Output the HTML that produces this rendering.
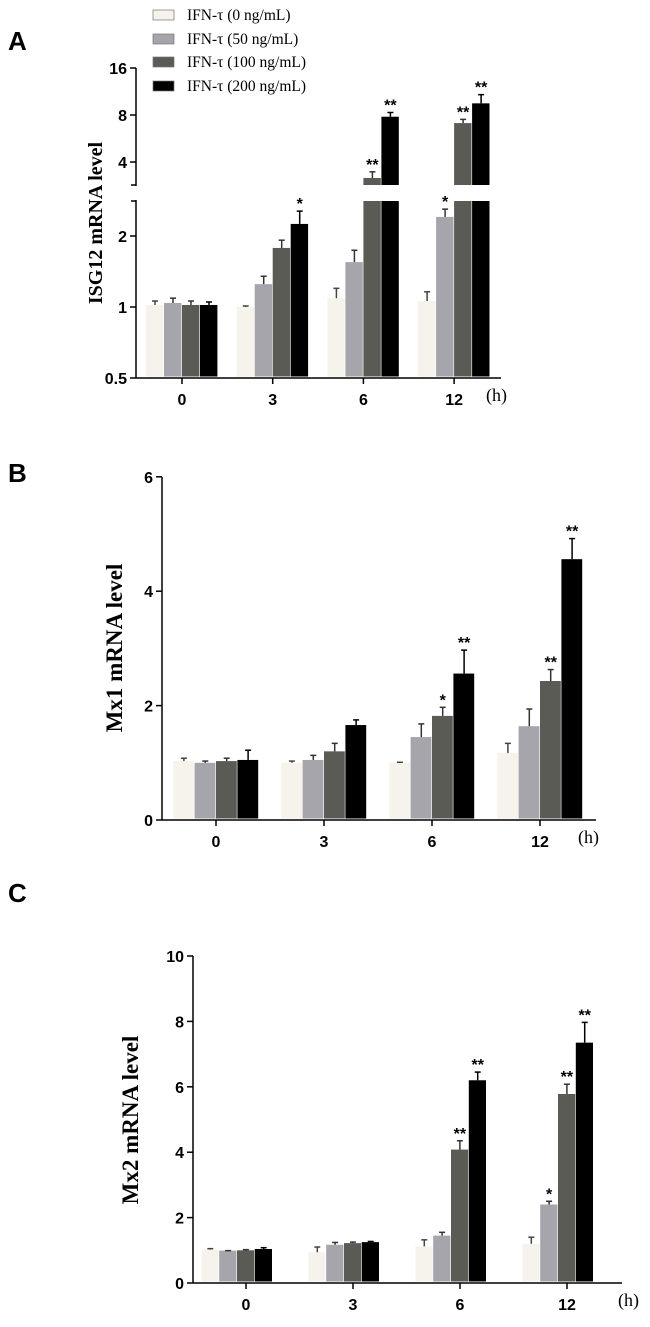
<!DOCTYPE html>
<html><head><meta charset="utf-8">
<style>
html,body{margin:0;padding:0;background:#fff;}
svg{display:block;}
.tk{font-family:"Liberation Sans",sans-serif;font-weight:bold;font-size:16px;}
.ttl{font-family:"Liberation Serif",serif;font-weight:bold;}
.hu{font-family:"Liberation Serif",serif;font-weight:normal;font-size:18px;}
.lg{font-family:"Liberation Serif",serif;font-size:15.5px;}
.pl{font-family:"Liberation Sans",sans-serif;font-weight:bold;font-size:26px;}
</style></head>
<body>
<svg id="fig" width="650" height="1327" viewBox="0 0 650 1327" xmlns="http://www.w3.org/2000/svg"></svg>
<script>
const categories = ["0","3","6","12"];
const seriesNames = ["IFN-τ (0 ng/mL)","IFN-τ (50 ng/mL)","IFN-τ (100 ng/mL)","IFN-τ (200 ng/mL)"];
// Panel A ISG12
const aVals = [[1.02,1.0,1.09,1.06],[1.04,1.25,1.55,2.41],[1.02,1.78,3.16,7.1],[1.02,2.25,7.8,9.5]];
const aErr  = [[0.04,0.01,0.11,0.1],[0.05,0.1,0.19,0.19],[0.04,0.14,0.3,0.4],[0.03,0.3,0.5,1.3]];
const aStars= [["","","",""],["","","","*"],["","","**","**"],["","*","**","**"]];
const aTicksLow = [0.5,1,2];
const aTicksHigh = [4,8,16];
// Panel B Mx1
const bVals = [[1.03,1.0,1.0,1.17],[1.0,1.05,1.45,1.64],[1.03,1.2,1.82,2.43],[1.05,1.66,2.56,4.56]];
const bErr  = [[0.05,0.03,0.01,0.17],[0.03,0.08,0.23,0.3],[0.05,0.14,0.15,0.2],[0.17,0.09,0.41,0.36]];
const bStars= [["","","",""],["","","",""],["","","*","**"],["","","**","**"]];
const bTicks = [0,2,4,6];
// Panel C Mx2
const cVals = [[1.02,0.94,1.12,1.2],[0.99,1.17,1.45,2.4],[1.0,1.22,4.08,5.78],[1.04,1.25,6.2,7.35]];
const cErr  = [[0.03,0.16,0.2,0.2],[0.0,0.07,0.1,0.1],[0.02,0.03,0.27,0.3],[0.04,0.02,0.25,0.62]];
const cStars= [["","","",""],["","","","*"],["","","**","**"],["","","**","**"]];
const cTicks = [0,2,4,6,8,10];

const colors = ["#f6f2ec","#a5a5ab","#5a5b55","#000000"];
const errCol = ["#444","#333","#333","#000"];
const svg = document.getElementById('fig');
const NS = "http://www.w3.org/2000/svg";
function el(tag, attrs, parent){const e=document.createElementNS(NS,tag);for(const k in attrs)e.setAttribute(k,attrs[k]);(parent||svg).appendChild(e);return e;}
function txt(x,y,s,cls,extra,parent){const t=el('text',Object.assign({x:x,y:y,class:cls},extra||{}),parent);t.textContent=s;return t;}

function panel(cfg){
  const g=el('g',{});
  
  
  const ax=cfg.axisX, base=cfg.baseY;
  const yl=el('line',{x1:ax,y1:cfg.topY,x2:ax,y2:base,stroke:'#000','stroke-width':1.5},g);
   
  const xl=el('line',{x1:ax,y1:base,x2:cfg.axisEnd,y2:base,stroke:'#000','stroke-width':1.5},g);
   
  if(cfg.extraAxis) cfg.extraAxis(g);
  cfg.ticks.forEach(v=>{
    const y=cfg.y(v);
    el('line',{x1:ax-6,y1:y,x2:ax,y2:y,stroke:'#000','stroke-width':1.5},g);
    const t=txt(ax-9,y+6,String(v),'tk',{'text-anchor':'end'},g);
     
  });
  categories.forEach((c,i)=>{
    const cx=cfg.x0+i*cfg.step;
    const tx=cx+(cfg.tickDx||0);
    el('line',{x1:tx,y1:base,x2:tx,y2:base+6,stroke:'#000','stroke-width':1.5},g);
    const t=txt(tx,base+cfg.labOff,c,'tk',{'text-anchor':'middle'},g);
     
    for(let s=0;s<4;s++){
      const v=cfg.vals[s][i], e=cfg.errs[s][i];
      const bx=cx-2*cfg.bw+s*cfg.bw;
      const segs=cfg.barSegs(v);
      segs.forEach(sg=>{
        const r=el('rect',{x:bx,y:sg[0],width:cfg.bw-0.6,height:sg[1]-sg[0]-1.5,fill:colors[s]},g);
        
        
      });
      const yt=cfg.y(v), ye=cfg.y(v+e);
      const m=bx+cfg.bw/2;
      el('line',{x1:m,y1:yt,x2:m,y2:ye,stroke:errCol[s],'stroke-width':1.5},g);
      el('line',{x1:m-3,y1:ye,x2:m+3,y2:ye,stroke:errCol[s],'stroke-width':1.5},g);
      const st=cfg.stars[s][i];
      if(st){const t=txt(m,ye-2,st,'tk',{'text-anchor':'middle','font-size':'14'},g);
         }
    }
  });
  const h=txt(cfg.hX,base+cfg.labOff-4,'(h)','hu',{},g);
   
  const yt=txt(0,0,cfg.title,'ttl',{'text-anchor':'middle','font-size':cfg.tfs,transform:`translate(${cfg.tx},${cfg.ty}) rotate(-90)`},g);
   
  const pl=txt(8,cfg.plY,cfg.letter,'pl',{},g);
   
}

const aLowBase=378, aLowPx=71, aHiTop=68, aHiPx=47, aBreakLow=201, aBreakHi=185;
function aY(v){ if(v<=2.81) return aLowBase-aLowPx*Math.log2(v/0.5); return aHiTop+aHiPx*Math.log2(16/v); }
panel({name:'panel-a-isg12',letter:'A',plY:50,axisX:136,topY:68,baseY:378,axisEnd:501,
  y:aY,ticks:aTicksLow.concat(aTicksHigh),vals:aVals,errs:aErr,stars:aStars,
  x0:182,step:90.7,bw:18,labOff:27,hX:486,title:'ISG12 mRNA level',tfs:20,tx:102,ty:223,
  barSegs:v=>{ if(v<=2.81) return [[aY(v),aLowBase]]; return [[aY(v),aBreakHi+1.5],[aBreakLow,aLowBase]]; },
  extraAxis:g=>{ el('rect',{x:128,y:aBreakHi+1,width:14,height:aBreakLow-aBreakHi-2,fill:'#fff'},g);
    el('line',{x1:131,y1:aBreakHi,x2:136,y2:aBreakHi,stroke:'#000','stroke-width':1.5},g);
    el('line',{x1:131,y1:aBreakLow,x2:136,y2:aBreakLow,stroke:'#000','stroke-width':1.5},g);}
});

panel({name:'panel-b-mx1',letter:'B',plY:482,axisX:162,topY:477,baseY:820,axisEnd:596,
  y:v=>820-57.2*v,ticks:bTicks,vals:bVals,errs:bErr,stars:bStars,
  x0:216,step:108,bw:21.4,labOff:27,hX:578,title:'Mx1 mRNA level',tfs:23,tx:122,ty:648,
  barSegs:v=>[[820-57.2*v,820]]});

panel({name:'panel-c-mx2',letter:'C',plY:902,axisX:193,topY:956,baseY:1283,axisEnd:622,
  y:v=>1283-32.7*v,ticks:cTicks,vals:cVals,errs:cErr,stars:cStars,
  x0:237,step:107,bw:17.8,tickDx:9,labOff:27,hX:618,title:'Mx2 mRNA level',tfs:23,tx:138,ty:1120,
  barSegs:v=>[[1283-32.7*v,1283]]});

const lg=el('g',{});


const ly=[15,39,62,86];
seriesNames.forEach((n,i)=>{
  const r=el('rect',{x:153,y:ly[i]-5,width:21,height:10,fill:colors[i],stroke:'#777','stroke-width':0.7},lg);
   
  const t=txt(187,ly[i]+5,n,'lg',{},lg);
   
});
</script>
</body></html>
